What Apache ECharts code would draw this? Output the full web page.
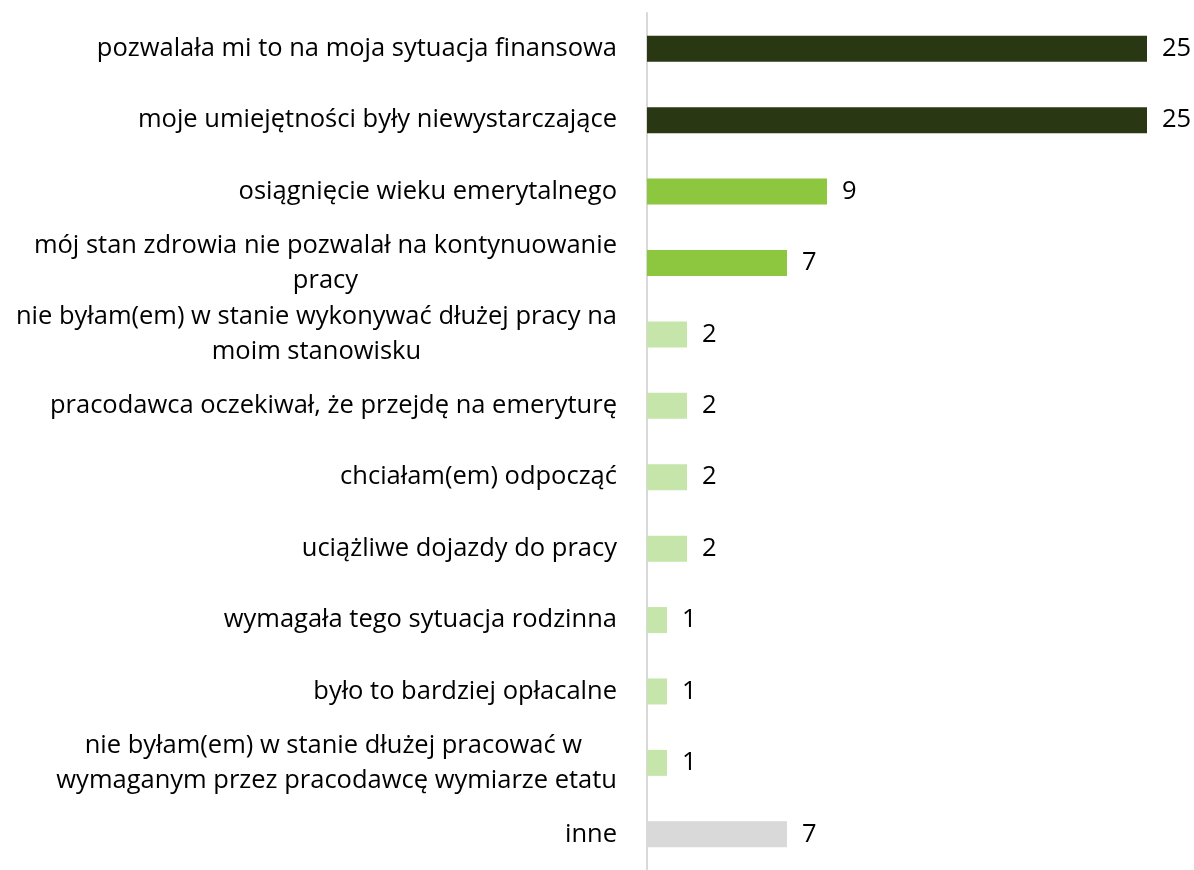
<!DOCTYPE html>
<html>
<head>
<meta charset="utf-8">
<script src="https://cdn.jsdelivr.net/npm/echarts@6/dist/echarts.min.js"></script>
<style>
  html, body { margin: 0; padding: 0; background: #ffffff; overflow: hidden; }
  #chart { width: 1194px; height: 870px; }
</style>
</head>
<body>
<div id="chart"></div>
<script>
// Reasons for leaving work (number of answers)
const categories = [
  'pozwalała mi to na moja sytuacja finansowa',
  'moje umiejętności były niewystarczające',
  'osiągnięcie wieku emerytalnego',
  'mój stan zdrowia nie pozwalał na kontynuowanie\npracy',
  'nie byłam(em) w stanie wykonywać dłużej pracy na\nmoim stanowisku',
  'pracodawca oczekiwał, że przejdę na emeryturę',
  'chciałam(em) odpocząć',
  'uciążliwe dojazdy do pracy',
  'wymagała tego sytuacja rodzinna',
  'było to bardziej opłacalne',
  'nie byłam(em) w stanie dłużej pracować w \nwymaganym przez pracodawcę wymiarze etatu',
  'inne'
];
const values = [25, 25, 9, 7, 2, 2, 2, 2, 1, 1, 1, 7];
// colour group of each bar: 0 = dark, 1 = medium, 2 = light, 3 = other
const groups = [0, 0, 1, 1, 2, 2, 2, 2, 2, 2, 2, 3];
const palette = ['#2a3713', '#8dc63f', '#c6e5ab', '#d9d9d9'];

const FONT = '"Open Sans"';
const FONT_SIZE = 25.5;

const chart = echarts.init(document.getElementById('chart'), null, { renderer: 'canvas' });
chart.setOption({
  animation: false,
  grid: { left: 647, top: 13, width: 540, height: 867, containLabel: false },
  xAxis: {
    type: 'value', min: 0, max: 27,
    show: false
  },
  yAxis: {
    type: 'category',
    data: categories,
    inverse: true,
    axisLine: { show: true, lineStyle: { color: '#d9d9d9', width: 2 } },
    axisTick: { show: false },
    splitLine: { show: false },
    axisLabel: {
      margin: 30,
      align: 'right',
      formatter: function (v) {
        return v.split('\n').map(function (s) { return '{c|' + s + '}'; }).join('\n');
      },
      rich: {
        c: {
          align: 'center',
          fontFamily: FONT,
          fontSize: FONT_SIZE,
          lineHeight: 35,
          color: '#000000'
        }
      }
    }
  },
  series: [{
    type: 'bar',
    barWidth: 26,
    data: values.map(function (v, i) {
      return { value: v, itemStyle: { color: palette[groups[i]] } };
    }),
    label: {
      show: true,
      position: 'right',
      distance: 15,
      fontFamily: FONT,
      fontSize: FONT_SIZE,
      color: '#000000'
    }
  }]
});
</script>
</body>
</html>
